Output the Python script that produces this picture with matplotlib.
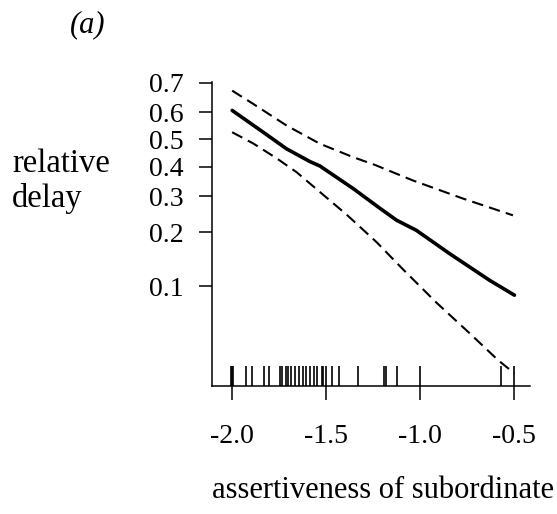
import matplotlib
matplotlib.use("Agg")
import matplotlib.pyplot as plt
from matplotlib.ticker import NullLocator, NullFormatter

plt.rcParams['font.family'] = ['Liberation Serif', 'DejaVu Serif']
plt.rcParams['font.size'] = 20

# fitted effect on the logit scale, with pointwise confidence band
fit_x = [-2.0, -1.835, -1.711, -1.587, -1.534, -1.357, -1.225, -1.127, -1.021,
         -0.844, -0.631, -0.5]
fit_y = [0.607, 0.527, 0.465, 0.418, 0.402, 0.324, 0.267, 0.230, 0.204,
         0.153, 0.108, 0.0885]

upper_x = [-2.0, -1.888, -1.711, -1.534, -1.357, -1.242, -1.039, -0.773, -0.508]
upper_y = [0.675, 0.630, 0.552, 0.484, 0.434, 0.406, 0.351, 0.292, 0.243]

lower_x = [-2.0, -1.888, -1.764, -1.658, -1.534, -1.392, -1.233, -1.092, -0.915,
           -0.738, -0.587, -0.5]
lower_y = [0.527, 0.485, 0.430, 0.380, 0.313, 0.245, 0.177, 0.125, 0.080,
           0.052, 0.0354, 0.0292]

# observed assertiveness values (rug)
rug_x = [-2.004, -2.0, -1.996, -1.924, -1.897, -1.832, -1.803, -1.747, -1.733,
         -1.715, -1.704, -1.685, -1.667, -1.644, -1.626, -1.609, -1.587, -1.564,
         -1.548, -1.525, -1.515, -1.499, -1.469, -1.432, -1.331, -1.194, -1.185,
         -1.124, -1.0, -0.569, -0.5]

x_ticks = [-2.0, -1.5, -1.0, -0.5]
x_ticklabels = ["-2.0", "-1.5", "-1.0", "-0.5"]
y_ticks = [0.1, 0.2, 0.3, 0.4, 0.5, 0.6, 0.7]
y_ticklabels = ["0.1", "0.2", "0.3", "0.4", "0.5", "0.6", "0.7"]

fig = plt.figure(figsize=(5.57, 5.14), dpi=100)
ax = fig.add_axes([0.380, 0.249, 0.5716, 0.591])

ax.plot(fit_x, fit_y, color="black", lw=2.6, solid_capstyle="round")
ax.plot(upper_x, upper_y, color="black", lw=1.5, dashes=(5.5, 3))
ax.plot(lower_x, lower_y, color="black", lw=1.5, dashes=(5.5, 3))

ax.vlines(rug_x, 0, 0.066, transform=ax.get_xaxis_transform(), color="black", lw=1.2)

ax.set_yscale("logit")
ax.set_xlim(-2.109, -0.417)
ax.set_ylim(0.0243, 0.702)

ax.set_xticks(x_ticks)
ax.set_xticklabels(x_ticklabels)
ax.set_yticks(y_ticks)
ax.set_yticklabels(y_ticklabels)
ax.yaxis.set_minor_locator(NullLocator())
ax.yaxis.set_minor_formatter(NullFormatter())

for side in ["top", "right"]:
    ax.spines[side].set_visible(False)
for side in ["left", "bottom"]:
    ax.spines[side].set_linewidth(1.1)

ax.tick_params(axis="x", direction="out", length=10, width=1.1, pad=17, labelsize=20)
ax.tick_params(axis="y", direction="out", length=9.5, width=1.1, pad=11, labelsize=20)

fig.text(0.158, 0.951, "(a)", fontsize=22, style="italic", ha="center", va="center")
fig.text(0.022, 1 - 181 / 514, "relative\ndelay", fontsize=23.5, ha="left", va="center",
         linespacing=1.15)
fig.text(383 / 557, 1 - 490 / 514, "assertiveness of subordinate", fontsize=22,
         ha="center", va="center")

fig.savefig("out.png", dpi=100)
